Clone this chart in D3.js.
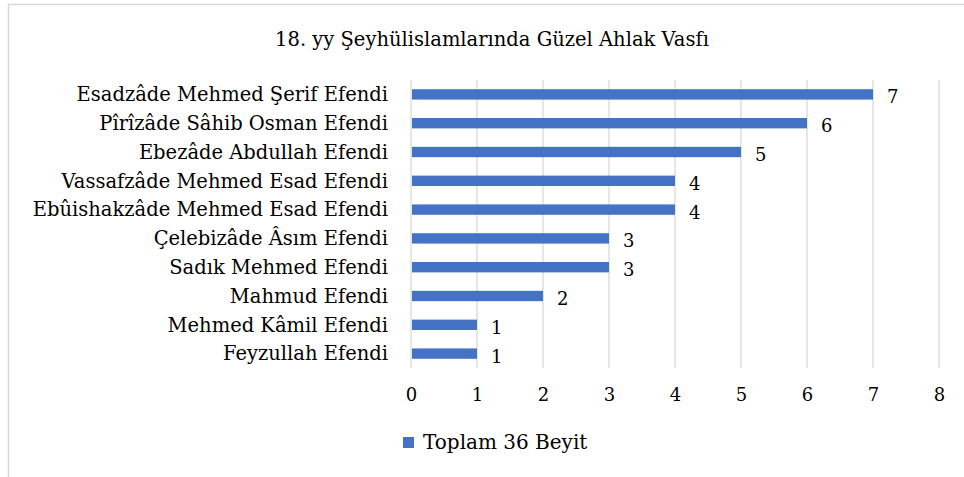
<!DOCTYPE html>
<html>
<head>
<meta charset="utf-8">
<script src="https://cdn.jsdelivr.net/npm/d3@7"></script>
<style>
  body { margin: 0; background: #fff; }
  svg text { font-family: Georgia, "DejaVu Serif", "Liberation Serif", serif; fill: #000; }
</style>
</head>
<body>
<div id="chart"></div>
<script>
const title = '18. yy Şeyhülislamlarında Güzel Ahlak Vasfı';
const names = [
    'Esadzâde Mehmed Şerif Efendi',
    'Pîrîzâde Sâhib Osman Efendi',
    'Ebezâde Abdullah Efendi',
    'Vassafzâde Mehmed Esad Efendi',
    'Ebûishakzâde Mehmed Esad Efendi',
    'Çelebizâde Âsım Efendi',
    'Sadık Mehmed Efendi',
    'Mahmud Efendi',
    'Mehmed Kâmil Efendi',
    'Feyzullah Efendi'
];
const counts = [7, 6, 5, 4, 4, 3, 3, 2, 1, 1];
const xTicks = [0, 1, 2, 3, 4, 5, 6, 7, 8];
const seriesName = 'Toplam 36 Beyit';

const width = 964, height = 477;
const margin = {top: 80, right: 25, bottom: 109, left: 411};
const color = '#4472C4';
const serif = 'Georgia, "DejaVu Serif", "Liberation Serif", serif';

const svg = d3.select('#chart').append('svg')
    .attr('width', width)
    .attr('height', height);

// outer frame
svg.append('rect')
    .attr('x', 8.5).attr('y', 4.5)
    .attr('width', width + 10).attr('height', height + 10)
    .attr('fill', 'none')
    .attr('stroke', '#d9d9d9')
    .attr('stroke-width', 1.5);

svg.append('text')
    .attr('x', 492).attr('y', 46)
    .attr('text-anchor', 'middle')
    .style('font-size', '19.5px')
    .text(title);

const xScale = d3.scaleLinear()
    .domain([0, 8])
    .range([margin.left, width - margin.right]);

const yScale = d3.scaleBand()
    .domain(names)
    .range([margin.top, height - margin.bottom])
    .paddingInner(0.64)
    .paddingOuter(0.32);

const plot = svg.append('g');

// grid
plot.selectAll('.grid')
    .data(xTicks)
    .enter()
    .append('line')
        .attr('x1', d => xScale(d)).attr('x2', d => xScale(d))
        .attr('y1', margin.top).attr('y2', height - margin.bottom)
        .attr('stroke', '#d9d9d9')
        .attr('stroke-width', 1.3);

// bars
plot.selectAll('.bar')
    .data(names)
    .enter()
    .append('rect')
        .attr('x', xScale(0) + 1)
        .attr('y', d => yScale(d))
        .attr('width', (d, i) => xScale(counts[i]) - xScale(0) - 1)
        .attr('height', yScale.bandwidth())
        .attr('fill', color);

// value labels
plot.selectAll('.val')
    .data(names)
    .enter()
    .append('text')
        .attr('x', (d, i) => xScale(counts[i]) + 14)
        .attr('y', d => yScale(d) + yScale.bandwidth() / 2 + 9)
        .style('font-size', '18px')
        .text((d, i) => counts[i]);

// category labels
const yAxis = d3.axisLeft(yScale).tickSize(0).tickPadding(23);
const yg = svg.append('g')
    .attr('transform', `translate(${margin.left},0)`)
    .call(yAxis);
yg.select('.domain').remove();
yg.selectAll('text')
    .attr('dy', '0.35em')
    .style('font-size', '19.5px')
    .style('font-family', serif);

// x axis labels
const xAxis = d3.axisBottom(xScale).tickValues(xTicks).tickSize(0).tickPadding(20);
const xg = svg.append('g')
    .attr('transform', `translate(0,${height - margin.bottom})`)
    .call(xAxis);
xg.select('.domain').remove();
xg.selectAll('text')
    .style('font-size', '18px')
    .style('font-family', serif);

// legend
const legend = svg.append('g').attr('transform', 'translate(403,437)');
legend.append('rect')
    .attr('width', 11).attr('height', 11)
    .attr('fill', color);
legend.append('text')
    .attr('x', 20).attr('y', 12)
    .style('font-size', '20px')
    .text(seriesName);
</script>
</body>
</html>
